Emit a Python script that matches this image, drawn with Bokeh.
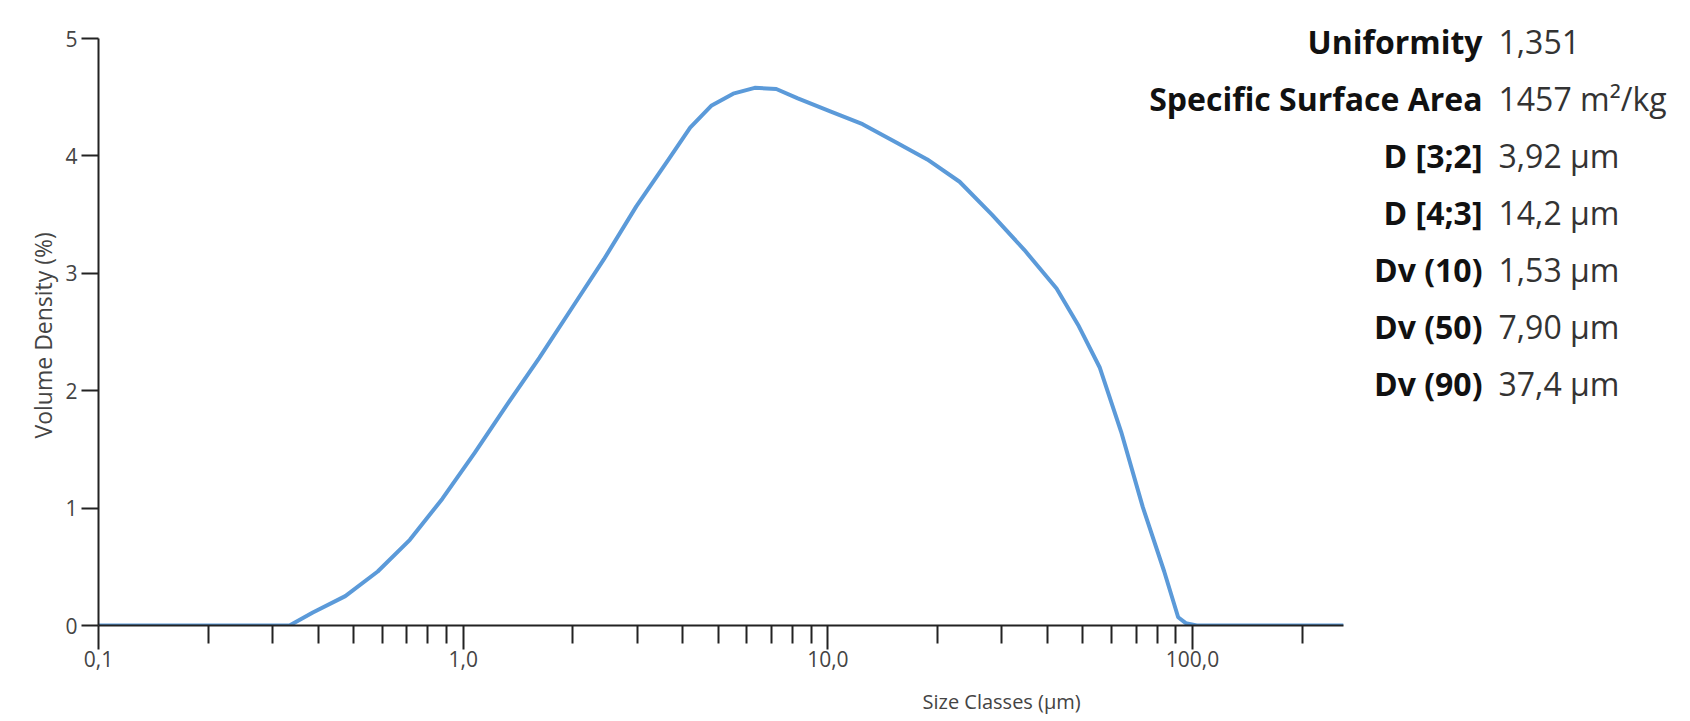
from bokeh.plotting import figure
from bokeh.models import (FixedTicker, Label, Range1d, CustomJSTickFormatter,
                          Title, LogAxis)
from bokeh.embed import file_html
from bokeh.resources import INLINE

# ---- data ----
size_um = [0.1, 0.2, 0.334, 0.387, 0.475, 0.583, 0.714, 0.877, 1.075, 1.318,
           1.617, 1.983, 2.432, 2.983, 3.658, 4.191, 4.801, 5.50, 6.30, 7.22,
           8.27, 10.15, 12.45, 15.27, 18.73, 22.97, 28.17, 34.55, 42.37, 48.55,
           55.6, 63.7, 73.0, 83.6, 91.3, 95.8, 102.6, 150.0, 259.0]
volume_density = [0, 0, 0, 0.11, 0.25, 0.46, 0.73, 1.08, 1.47, 1.88,
                  2.28, 2.70, 3.12, 3.57, 3.97, 4.24, 4.43, 4.53, 4.58, 4.57,
                  4.49, 4.38, 4.27, 4.12, 3.97, 3.78, 3.50, 3.20, 2.87, 2.56,
                  2.20, 1.65, 1.01, 0.46, 0.07, 0.02, 0, 0, 0]

x_tick_values = [0.1, 1.0, 10.0, 100.0]
x_tick_labels = ["0,1", "1,0", "10,0", "100,0"]
x_minor_values = [0.2, 0.3, 0.4, 0.5, 0.6, 0.7, 0.8, 0.9,
                  2, 3, 4, 5, 6, 7, 8, 9,
                  20, 30, 40, 50, 60, 70, 80, 90, 200]
x_axis_extent = (0.1, 259.0)
y_tick_values = [0, 1, 2, 3, 4, 5]
y_axis_extent = (0, 5)

stat_names = ["Uniformity", "Specific Surface Area", "D [3;2]", "D [4;3]",
              "Dv (10)", "Dv (50)", "Dv (90)"]
stat_values = ["1,351", "1457 m\u00b2/kg", "3,92 \u00b5m", "14,2 \u00b5m",
               "1,53 \u00b5m", "7,90 \u00b5m", "37,4 \u00b5m"]

FONT = "Open Sans"

# frame is wider/taller than the axes so the statistics panel fits inside it;
# axis bounds limit the drawn axes to the data extent
p = figure(width=1690, height=721, x_axis_type="log",
           x_range=Range1d(0.1, 2044), y_range=Range1d(0, 5.2215),
           output_backend="svg", toolbar_location=None,
           min_border_left=98, min_border_right=20,
           min_border_top=12, min_border_bottom=96)
p.outline_line_color = None
p.background_fill_color = "white"
p.border_fill_color = "white"
p.xgrid.visible = False
p.ygrid.visible = False

p.line(size_um, volume_density, line_color="#5b9ad9", line_width=4)

# x axis
xa = p.xaxis[0]
xa.bounds = x_axis_extent
xa.ticker = FixedTicker(ticks=x_tick_values, minor_ticks=x_minor_values)
xa.formatter = CustomJSTickFormatter(
    args=dict(vals=x_tick_values, labs=x_tick_labels),
    code="""
    for (let i = 0; i < vals.length; i++) {
        if (Math.abs(vals[i] - tick) < 1e-6 * vals[i]) return labs[i];
    }
    return '';
    """)
xa.axis_line_color = "#222222"
xa.axis_line_width = 2
xa.major_tick_line_color = "#222222"
xa.major_tick_line_width = 2
xa.major_tick_out = 24
xa.major_tick_in = 0
xa.minor_tick_line_color = "#222222"
xa.minor_tick_line_width = 2
xa.minor_tick_out = 18
xa.minor_tick_in = 0
xa.major_label_text_font = FONT
xa.major_label_text_font_size = "21px"
xa.major_label_text_color = "#444444"
xa.major_label_standoff = 1

# y axis
ya = p.yaxis[0]
ya.bounds = y_axis_extent
ya.ticker = FixedTicker(ticks=y_tick_values)
ya.axis_line_color = "#222222"
ya.axis_line_width = 2
ya.major_tick_line_color = "#222222"
ya.major_tick_line_width = 2
ya.major_tick_out = 17
ya.major_tick_in = 0
ya.minor_tick_line_color = None
ya.major_label_text_font = FONT
ya.major_label_text_font_size = "21px"
ya.major_label_text_color = "#444444"
ya.major_label_standoff = 4

# blank spacer axis (one white tick in the empty right-hand area, no label)
# that pushes the x title down
spacer = LogAxis(ticker=FixedTicker(ticks=[1000.0], minor_ticks=[]),
                 formatter=CustomJSTickFormatter(code="return '';"),
                 axis_line_color=None,
                 major_tick_line_color="white", minor_tick_line_color=None,
                 major_tick_out=21, major_tick_in=0, minor_tick_out=0,
                 minor_tick_in=0, major_label_standoff=0)
p.add_layout(spacer, "below")

# axis titles (as side titles so they can be shifted along the axis)
p.add_layout(Title(text="Size Classes (\u00b5m)", align="left", offset=824,
                   vertical_align="bottom", standoff=-10,
                   text_font=FONT, text_font_size="20px",
                   text_font_style="normal", text_color="#444444"), "below")
p.add_layout(Title(text="Volume Density (%)", align="left", offset=187,
                   vertical_align="middle", standoff=6,
                   text_font=FONT, text_font_size="23px",
                   text_font_style="normal", text_color="#444444"), "left")

# statistics panel (screen units, relative to the plot frame)
row_top = 584
row_step = 57
for i, (name, val) in enumerate(zip(stat_names, stat_values)):
    yy = row_top - i * row_step
    p.add_layout(Label(x=1384, y=yy, x_units="screen", y_units="screen",
                       text=name, text_align="right", text_baseline="middle",
                       text_font=FONT, text_font_size="32px",
                       text_font_style="bold", text_color="#111111"))
    p.add_layout(Label(x=1400, y=yy, x_units="screen", y_units="screen",
                       text=val, text_align="left", text_baseline="middle",
                       text_font=FONT, text_font_size="32px",
                       text_font_style="normal", text_color="#333333"))

open("out.html", "w").write(file_html(p, INLINE))
